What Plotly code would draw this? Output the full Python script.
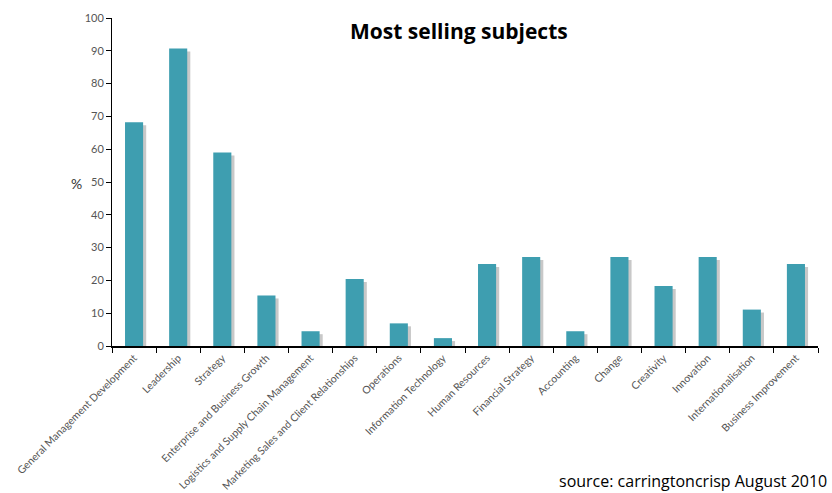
import plotly.graph_objects as go

categories = [
    "General Management Development", "Leadership", "Strategy",
    "Enterprise and Business Growth", "Logistics and Supply Chain Management",
    "Marketing Sales and Client Relationships", "Operations",
    "Information Technology", "Human Resources", "Financial Strategy",
    "Accounting", "Change", "Creativity", "Innovation",
    "Internationalisation", "Business Improvement",
]
values = [68.2, 90.7, 59, 15.4, 4.5, 20.4, 6.9, 2.4, 25, 27.1, 4.5, 27.1, 18.3, 27.1, 11.1, 25]
y_ticks = [0, 10, 20, 30, 40, 50, 60, 70, 80, 90, 100]

BAR = "#3E9EB0"
SHADOW = "#C8C8C8"
WIDTH = 0.41

fig = go.Figure()
# shadow bars
fig.add_trace(go.Bar(
    x=categories, y=[v - 0.9 for v in values], width=WIDTH,
    offset=-WIDTH / 2 + 0.07, marker=dict(color=SHADOW, line=dict(width=0)),
    hoverinfo="skip", showlegend=False,
))
# main bars
fig.add_trace(go.Bar(
    x=categories, y=values, width=WIDTH, offset=-WIDTH / 2,
    marker=dict(color=BAR, line=dict(width=0)), showlegend=False,
))

plot_w = 832 - 112 - 14
plot_h = 493 - 18 - 147

fig.update_layout(
    width=832, height=493,
    margin=dict(l=112, r=14, t=18, b=147, autoexpand=False),
    paper_bgcolor="white", plot_bgcolor="white",
    barmode="overlay",
    xaxis=dict(
        type="category", tickangle=-45, tickson="boundaries",
        ticks="outside", ticklen=5, tickcolor="black",
        showline=True, linecolor="black", linewidth=1.5,
        showgrid=False, automargin=False, ticklabeloverflow="allow",
        tickfont=dict(family="Lato", size=10.5, color="#555555"),
    ),
    yaxis=dict(
        range=[0, 100], tickvals=y_ticks,
        ticks="outside", ticklen=5, tickcolor="black",
        showline=True, linecolor="black", linewidth=1,
        showgrid=False, zeroline=False, automargin=False,
        tickfont=dict(family="Lato", size=11, color="#555555"),
    ),
    annotations=[
        dict(text="<b>Most selling subjects</b>",
             x=(459 - 112) / plot_w, y=(346 - 31) / plot_h,
             xref="paper", yref="paper", xanchor="center", yanchor="middle",
             showarrow=False,
             font=dict(family="Open Sans", size=21, color="black")),
        dict(text="%", x=(76 - 112) / plot_w, y=(346 - 183) / plot_h,
             xref="paper", yref="paper", xanchor="center", yanchor="middle",
             showarrow=False,
             font=dict(family="Lato", size=14, color="#333333")),
        dict(text="source: carringtoncrisp August 2010",
             x=(829 - 112) / plot_w, y=(346 - 481) / plot_h,
             xref="paper", yref="paper", xanchor="right", yanchor="middle",
             showarrow=False,
             font=dict(family="Open Sans", size=16, color="black")),
    ],
)

fig.write_html("out.html")
